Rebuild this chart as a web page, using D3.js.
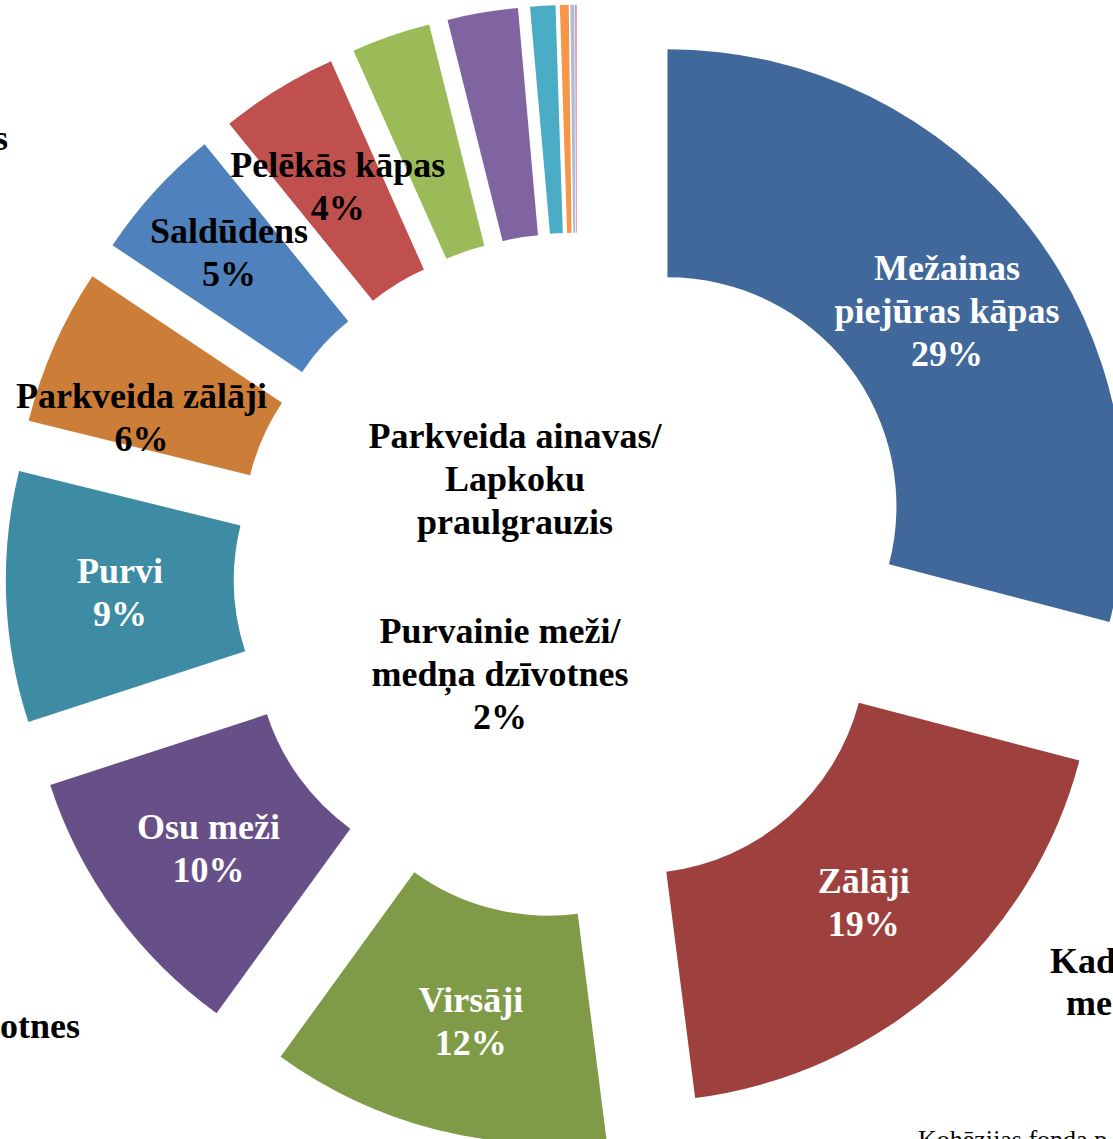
<!DOCTYPE html>
<html>

<head>
    <meta charset="utf-8">
    <script src="https://d3js.org/d3.v7.min.js"></script>
    <style>
        body { margin: 0; background: #fff; }
        svg { display: block; }
        text { font-family: "Liberation Serif", "Times New Roman", serif; }
    </style>
    <script>
        const w = 1113
        const h = 1139

        // slices clockwise from 12 o'clock, shares in %
        const categories = ["Mežainas piejūras kāpas", "Zālāji", "Virsāji", "Osu meži", "Purvi",
            "Parkveida zālāji", "Saldūdens", "Pelēkās kāpas",
            "Parkveida ainavas/ Lapkoku praulgrauzis", "Purvainie meži/ medņa dzīvotnes",
            "Citi 1", "Citi 2", "Citi 3", "Citi 4"]
        const shares = [29.08, 18.9, 12, 10, 8.86, 5.53, 4.78, 4.17, 2.79, 2.49, 0.89, 0.31, 0.14, 0.06]
        const colors = ["#41689A", "#9E413E", "#7F9B48", "#674F87", "#3D8CA4", "#CC7D38",
            "#4F81BD", "#C0504D", "#9BBB59", "#8064A2", "#4BACC6", "#F79646", "#A9BCDC", "#D99694"]
        // label lines for slices that carry a label on the ring
        const labelLines = [["Mežainas", "piejūras kāpas"], ["Zālāji"], ["Virsāji"], ["Osu meži"], ["Purvi"],
            ["Parkveida zālāji"], ["Saldūdens"], ["Pelēkās kāpas"]]
        const whiteLabels = [0, 1, 2, 3, 4]

        function doSVG() {
            const cx = 577, cy = 576
            const rOuter = 457, rInner = 229
            const lh = 43

            const svg = d3.select("body").append("svg")
                .attr("width", w)
                .attr("height", h)

            const data = categories.map((c, i) => ({ name: c, share: shares[i], color: colors[i] }))
            const pie = d3.pie().sort(null).value(d => d.share)
            const arc = d3.arc().innerRadius(rInner).outerRadius(rOuter)
            const arcs = pie(data)

            // explosion distance for each slice (Zālāji pulled out a bit less)
            const explode = i => (i === 1 ? 0.2 : 0.25) * rOuter
            const shift = d => {
                const a = (d.startAngle + d.endAngle) / 2
                const e = explode(d.index)
                return [Math.sin(a) * e, -Math.cos(a) * e]
            }

            const g = svg.append("g").attr("transform", `translate(${cx},${cy})`)

            g.selectAll(".slice")
                .data(arcs)
                .enter()
                .append("path")
                .attr("class", "slice")
                .attr("transform", d => `translate(${shift(d)})`)
                .attr("d", arc)
                .attr("fill", d => d.data.color)

            // labels go on top of every slice
            const labelLayer = g.append("g")

            // small manual moves, like the dragged labels in the original
            const nudge = { 0: [8, 14], 2: [7, 2], 3: [1, 3], 5: [-17, 26], 6: [-10, -16] }

            function block(sel, x, y, lines, fill) {
                const n = lines.length
                lines.forEach((t, k) => {
                    sel.append("text")
                        .attr("x", x)
                        .attr("y", y - (n - 1) * lh / 2 + k * lh + 12)
                        .attr("text-anchor", "middle")
                        .attr("font-size", 36)
                        .attr("font-weight", "bold")
                        .attr("fill", fill)
                        .text(t)
                })
            }

            arcs.filter(d => d.index < labelLines.length).forEach(d => {
                const c = arc.centroid(d)
                const s = shift(d)
                const nd = nudge[d.index] || [0, 0]
                const lines = labelLines[d.index].concat([Math.round(d.data.share) + "%"])
                block(labelLayer, c[0] + s[0] + nd[0], c[1] + s[1] + nd[1], lines,
                    whiteLabels.includes(d.index) ? "#fff" : "#000")
            })

            // labels of the two small slices, dragged into the hole
            block(svg, 515, 479, ["Parkveida ainavas/", "Lapkoku", "praulgrauzis"], "#000")
            block(svg, 500, 674, ["Purvainie meži/", "medņa dzīvotnes",
                Math.round(shares[9]) + "%"], "#000")

            // labels that run off the cropped picture
            const cut = [
                { t: "s", x: 8, y: 150, a: "end" },
                { t: "otnes", x: 80, y: 1038, a: "end" },
                { t: "Kad", x: 1050, y: 973, a: "start" },
                { t: "me", x: 1066, y: 1015, a: "start" }
            ]
            svg.selectAll(".cut")
                .data(cut)
                .enter()
                .append("text")
                .attr("class", "cut")
                .attr("x", d => d.x)
                .attr("y", d => d.y)
                .attr("text-anchor", d => d.a)
                .attr("font-size", 36)
                .attr("font-weight", "bold")
                .text(d => d.t)

            svg.append("text")
                .attr("x", 918)
                .attr("y", 1148)
                .attr("font-size", 26)
                .text("Kohēzijas fonda p")
        }
    </script>
</head>

<body onload="doSVG()">
</body>

</html>
